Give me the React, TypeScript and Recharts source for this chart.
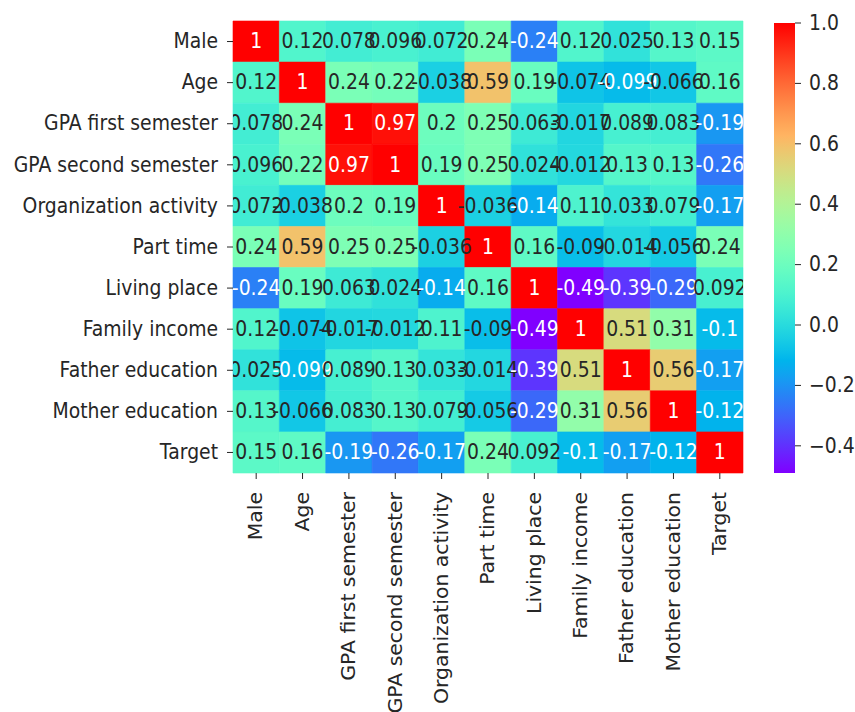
import React from 'react';
import { ScatterChart, Scatter, XAxis, YAxis, ReferenceArea, ComposedChart } from 'recharts';

const labels = [
  'Male', 'Age', 'GPA first semester', 'GPA second semester', 'Organization activity',
  'Part time', 'Living place', 'Family income', 'Father education', 'Mother education', 'Target',
];

const rowMale = [1, 0.12, 0.078, 0.096, 0.072, 0.24, -0.24, 0.12, 0.025, 0.13, 0.15];
const rowAge = [0.12, 1, 0.24, 0.22, -0.038, 0.59, 0.19, -0.074, -0.099, -0.066, 0.16];
const rowGpa1 = [0.078, 0.24, 1, 0.97, 0.2, 0.25, 0.063, -0.017, 0.089, 0.083, -0.19];
const rowGpa2 = [0.096, 0.22, 0.97, 1, 0.19, 0.25, 0.024, -0.012, 0.13, 0.13, -0.26];
const rowOrg = [0.072, -0.038, 0.2, 0.19, 1, -0.036, -0.14, 0.11, 0.033, 0.079, -0.17];
const rowPart = [0.24, 0.59, 0.25, 0.25, -0.036, 1, 0.16, -0.09, -0.014, -0.056, 0.24];
const rowLiving = [-0.24, 0.19, 0.063, 0.024, -0.14, 0.16, 1, -0.49, -0.39, -0.29, 0.092];
const rowIncome = [0.12, -0.074, -0.017, -0.012, 0.11, -0.09, -0.49, 1, 0.51, 0.31, -0.1];
const rowFather = [0.025, -0.099, 0.089, 0.13, 0.033, -0.014, -0.39, 0.51, 1, 0.56, -0.17];
const rowMother = [0.13, -0.066, 0.083, 0.13, 0.079, -0.056, -0.29, 0.31, 0.56, 1, -0.12];
const rowTarget = [0.15, 0.16, -0.19, -0.26, -0.17, 0.24, 0.092, -0.1, -0.17, -0.12, 1];

const matrix = [rowMale, rowAge, rowGpa1, rowGpa2, rowOrg, rowPart, rowLiving, rowIncome, rowFather, rowMother, rowTarget];

const colorbarTicks = [-0.4, -0.2, 0, 0.2, 0.4, 0.6, 0.8, 1.0];
const VMIN = -0.49;
const VMAX = 1;

const FONT = 'DejaVu Sans, sans-serif';
const FS = 18.8;
const SY = 1.085;
const TEXT = '#262626';

function rainbow(t: number): [number, number, number] {
  const x = Math.max(0, Math.min(1, t));
  const r = Math.min(1, Math.abs(2 * x - 0.5));
  const g = Math.sin(x * Math.PI);
  const b = Math.cos((x * Math.PI) / 2);
  return [r, Math.max(0, g), Math.max(0, b)];
}

function norm(v: number) {
  return (v - VMIN) / (VMAX - VMIN);
}

function toHex(c: [number, number, number]) {
  return '#' + c.map((u) => Math.round(u * 255).toString(16).padStart(2, '0')).join('');
}

function luminance(c: [number, number, number]) {
  const lin = c.map((u) => (u <= 0.03928 ? u / 12.92 : Math.pow((u + 0.055) / 1.055, 2.4)));
  return 0.2126 * lin[0] + 0.7152 * lin[1] + 0.0722 * lin[2];
}

function fmt(v: number) {
  return Number(v.toPrecision(2)).toString();
}

const idx = labels.map((_, i) => i);

const cells = matrix.flatMap((row, r) =>
  row.map((v, c) => {
    const rgb = rainbow(norm(v));
    return {
      x: c,
      y: r,
      v,
      fill: toHex(rgb),
      textColor: luminance(rgb) > 0.42 ? TEXT : '#ffffff',
    };
  })
);

const gradientStops = Array.from({ length: 41 }, (_, i) => {
  const t = 1 - i / 40;
  return { offset: `${(i / 40) * 100}%`, color: toHex(rainbow(t)) };
});

const CellText = (props: any) => {
  const { cx, cy, payload } = props;
  if (cx == null || cy == null) return null;
  return (
    <text
      transform={`translate(${cx},${cy}) scale(1,${SY})`}
      textAnchor="middle"
      dominantBaseline="central"
      fontSize={FS}
      fontFamily={FONT}
      fill={payload.textColor}
    >
      {fmt(payload.v)}
    </text>
  );
};

const XTick = (props: any) => {
  const { x, y, payload } = props;
  return (
    <text
      transform={`translate(${x},${y}) scale(1,${SY}) rotate(-90)`}
      textAnchor="end"
      dominantBaseline="central"
      fontSize={FS}
      fontFamily={FONT}
      fill={TEXT}
    >
      {labels[payload.value]}
    </text>
  );
};

const YTick = (props: any) => {
  const { x, y, payload } = props;
  return (
    <text
      transform={`translate(${x},${y}) scale(1,${SY})`}
      textAnchor="end"
      dominantBaseline="central"
      fontSize={FS}
      fontFamily={FONT}
      fill={TEXT}
    >
      {labels[payload.value]}
    </text>
  );
};

const CbTick = (props: any) => {
  const { x, y, payload } = props;
  return (
    <text
      transform={`translate(${x},${y}) scale(1,${SY})`}
      textAnchor="start"
      dominantBaseline="central"
      fontSize={FS}
      fontFamily={FONT}
      fill={TEXT}
    >
      {Number(payload.value).toFixed(1).replace('-', '\u2212')}
    </text>
  );
};

const cbData = [
  { x: 0, y: VMIN },
  { x: 1, y: VMAX },
];

export default function App() {
  return (
    <div style={{ position: 'absolute', left: 0, top: 0, width: 855, height: 712, background: '#fff', overflow: 'hidden' }}>
      <div style={{ position: 'absolute', left: 0, top: 0 }}>
        <ScatterChart width={760} height={712} margin={{ top: 21, right: 17, bottom: 0, left: 0 }}>
          <XAxis
            type="number"
            dataKey="x"
            domain={[-0.5, 10.5]}
            ticks={idx}
            interval={0}
            height={239}
            axisLine={false}
            tickSize={6}
            tickMargin={13}
            tickLine={{ stroke: TEXT }}
            tick={<XTick />}
            allowDataOverflow
          />
          <YAxis
            type="number"
            dataKey="y"
            domain={[-0.5, 10.5]}
            reversed
            ticks={idx}
            interval={0}
            width={233}
            axisLine={false}
            tickSize={6}
            tickMargin={9}
            tickLine={{ stroke: TEXT }}
            tick={<YTick />}
            allowDataOverflow
          />
          {cells.map((c) => (
            <ReferenceArea
              key={`${c.x}-${c.y}`}
              x1={c.x - 0.5}
              x2={c.x + 0.5}
              y1={c.y - 0.5}
              y2={c.y + 0.5}
              fill={c.fill}
              fillOpacity={1}
              stroke={c.fill}
              strokeWidth={0.6}
              ifOverflow="visible"
            />
          ))}
          <Scatter data={cells} shape={CellText} isAnimationActive={false} />
        </ScatterChart>
      </div>
      <div style={{ position: 'absolute', left: 760, top: 0 }}>
        <ComposedChart width={95} height={712} data={cbData} margin={{ top: 23, right: 0, bottom: 239, left: 14 }}>
          <defs>
            <linearGradient id="cbarGrad" x1="0" y1="0" x2="0" y2="1">
              {gradientStops.map((s, i) => (
                <stop key={i} offset={s.offset} stopColor={s.color} />
              ))}
            </linearGradient>
          </defs>
          <XAxis type="number" dataKey="x" domain={[0, 1]} hide />
          <YAxis
            type="number"
            dataKey="y"
            orientation="right"
            domain={[VMIN, VMAX]}
            ticks={colorbarTicks}
            interval={0}
            width={60}
            axisLine={false}
            tickSize={6}
            tickMargin={8}
            tickLine={{ stroke: TEXT }}
            tick={<CbTick />}
            allowDataOverflow
          />
          <ReferenceArea x1={0} x2={1} y1={VMIN} y2={VMAX} fill="url(#cbarGrad)" fillOpacity={1} ifOverflow="visible" />
          <Scatter dataKey="y" shape={() => null} isAnimationActive={false} />
        </ComposedChart>
      </div>
    </div>
  );
}
